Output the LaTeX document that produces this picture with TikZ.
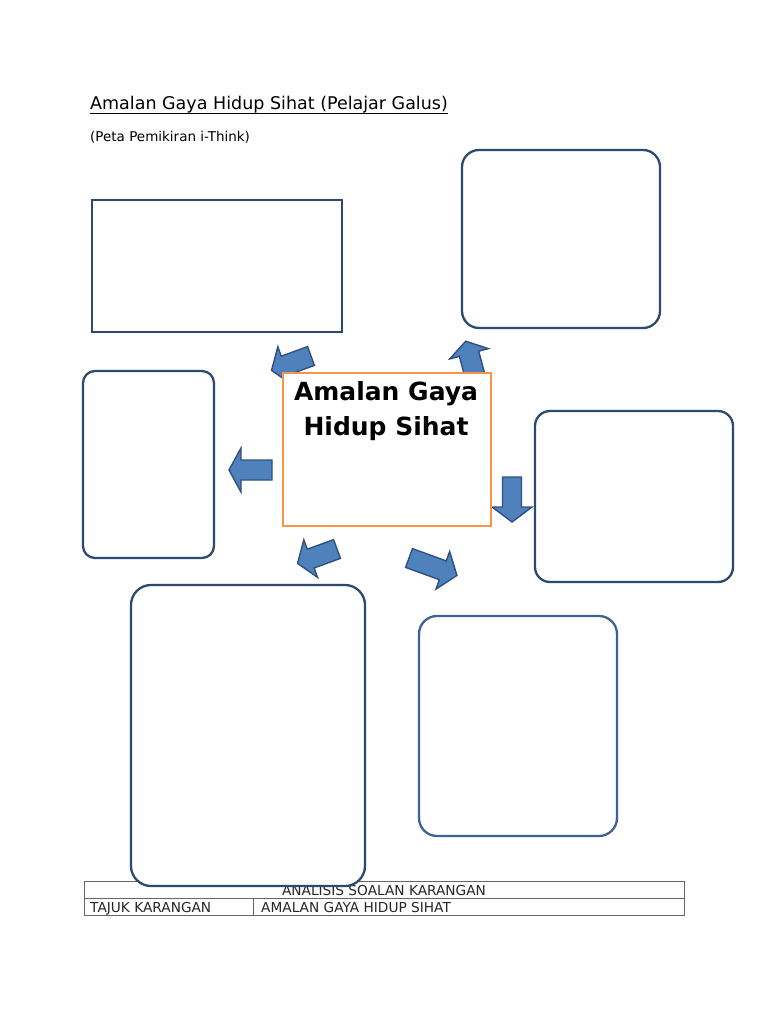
\documentclass[tikz,border=0pt]{standalone}
\usepackage{fontspec}
\setmainfont{DejaVu Sans}
\begin{document}
\begin{tikzpicture}[x=1pt,y=-1pt,
  frame/.style={draw=boxblue,line width=2.3pt,fill=white},
  blockarrow/.style={draw=arrowedge,fill=arrowfill,line width=1.4pt,line join=miter},
  tabline/.style={draw=gray!80!black,line width=0.8pt},
  tabtext/.style={font=\fontsize{13.7}{15}\selectfont,text=black!85,inner sep=0pt}]
\definecolor{boxblue}{HTML}{2C4A70}
\definecolor{boxblue2}{HTML}{3F6293}
\definecolor{arrowfill}{HTML}{4F81BD}
\definecolor{arrowedge}{HTML}{2F5080}
\definecolor{centerorange}{HTML}{F79646}
\newcommand\barrow[6]{% tail x,y ; angle ; length ; shaft ; head width ; head length
  \draw[blockarrow,shift={(#1)},rotate=#2]
    (0,-#4/2) -- (#3-#6,-#4/2) -- (#3-#6,-#5/2) -- (#3,0) -- (#3-#6,#5/2) -- (#3-#6,#4/2) -- (0,#4/2) -- cycle;}
\useasboundingbox (0,0) rectangle (768,1024);
\fill[white] (0,0) rectangle (768,1024);
% title
\node[anchor=base west,inner sep=0pt,font=\fontsize{17.5}{20}\selectfont] (title) at (90,110) {Amalan Gaya Hidup Sihat (Pelajar Galus)};
\draw[line width=1.3pt] ([yshift=-3.5pt]title.base west) -- ([yshift=-3.5pt]title.base east);
\node[anchor=base west,inner sep=0pt,font=\fontsize{13.5}{15}\selectfont] (subtitle) at (90,142) {(Peta Pemikiran i-Think)};
% table
\draw[tabline] (84,881) rectangle (684,915);
\draw[tabline] (84,898) -- (684,898);
\draw[tabline] (253,898) -- (253,915);
\node[tabtext,anchor=base] (t1) at (384,895) {ANALISIS SOALAN KARANGAN};
\node[tabtext,anchor=base west] (t2) at (90,912) {TAJUK KARANGAN};
\node[tabtext,anchor=base west] (t3) at (261,912) {AMALAN GAYA HIDUP SIHAT};
% boxes
\draw[frame] (92,200) rectangle (342,332);
\draw[frame,rounded corners=17pt] (462,150) rectangle (660,328);
\draw[frame,rounded corners=12pt] (83,371) rectangle (214,558);
\draw[frame,rounded corners=15pt] (535,411) rectangle (733,582);
\draw[frame,rounded corners=20pt] (131,585) rectangle (365,886);
\draw[frame,draw=boxblue2,rounded corners=18pt] (419,616) rectangle (617,836);
% arrows
\barrow{272,470}{180}{43}{20}{44}{12}
\barrow{512,477}{-90}{45}{19}{40}{15}
\barrow{475,376}{105}{36}{20}{40}{13}
\barrow{311,356}{200}{42}{20}{40}{14}
\barrow{337,549}{200}{42}{20}{40}{14}
\barrow{409,558}{-20}{51}{20}{40}{15}
% centre
\node[draw=centerorange,line width=2pt,fill=white,minimum width=208pt,minimum height=153pt,anchor=north west,inner sep=0pt] (centre) at (282,372) {};
\node[font=\bfseries\fontsize{25}{35}\selectfont,align=center,anchor=north,inner sep=0pt] (ctext) at (386,381) {Amalan Gaya\\Hidup Sihat};
\end{tikzpicture}
\end{document}
